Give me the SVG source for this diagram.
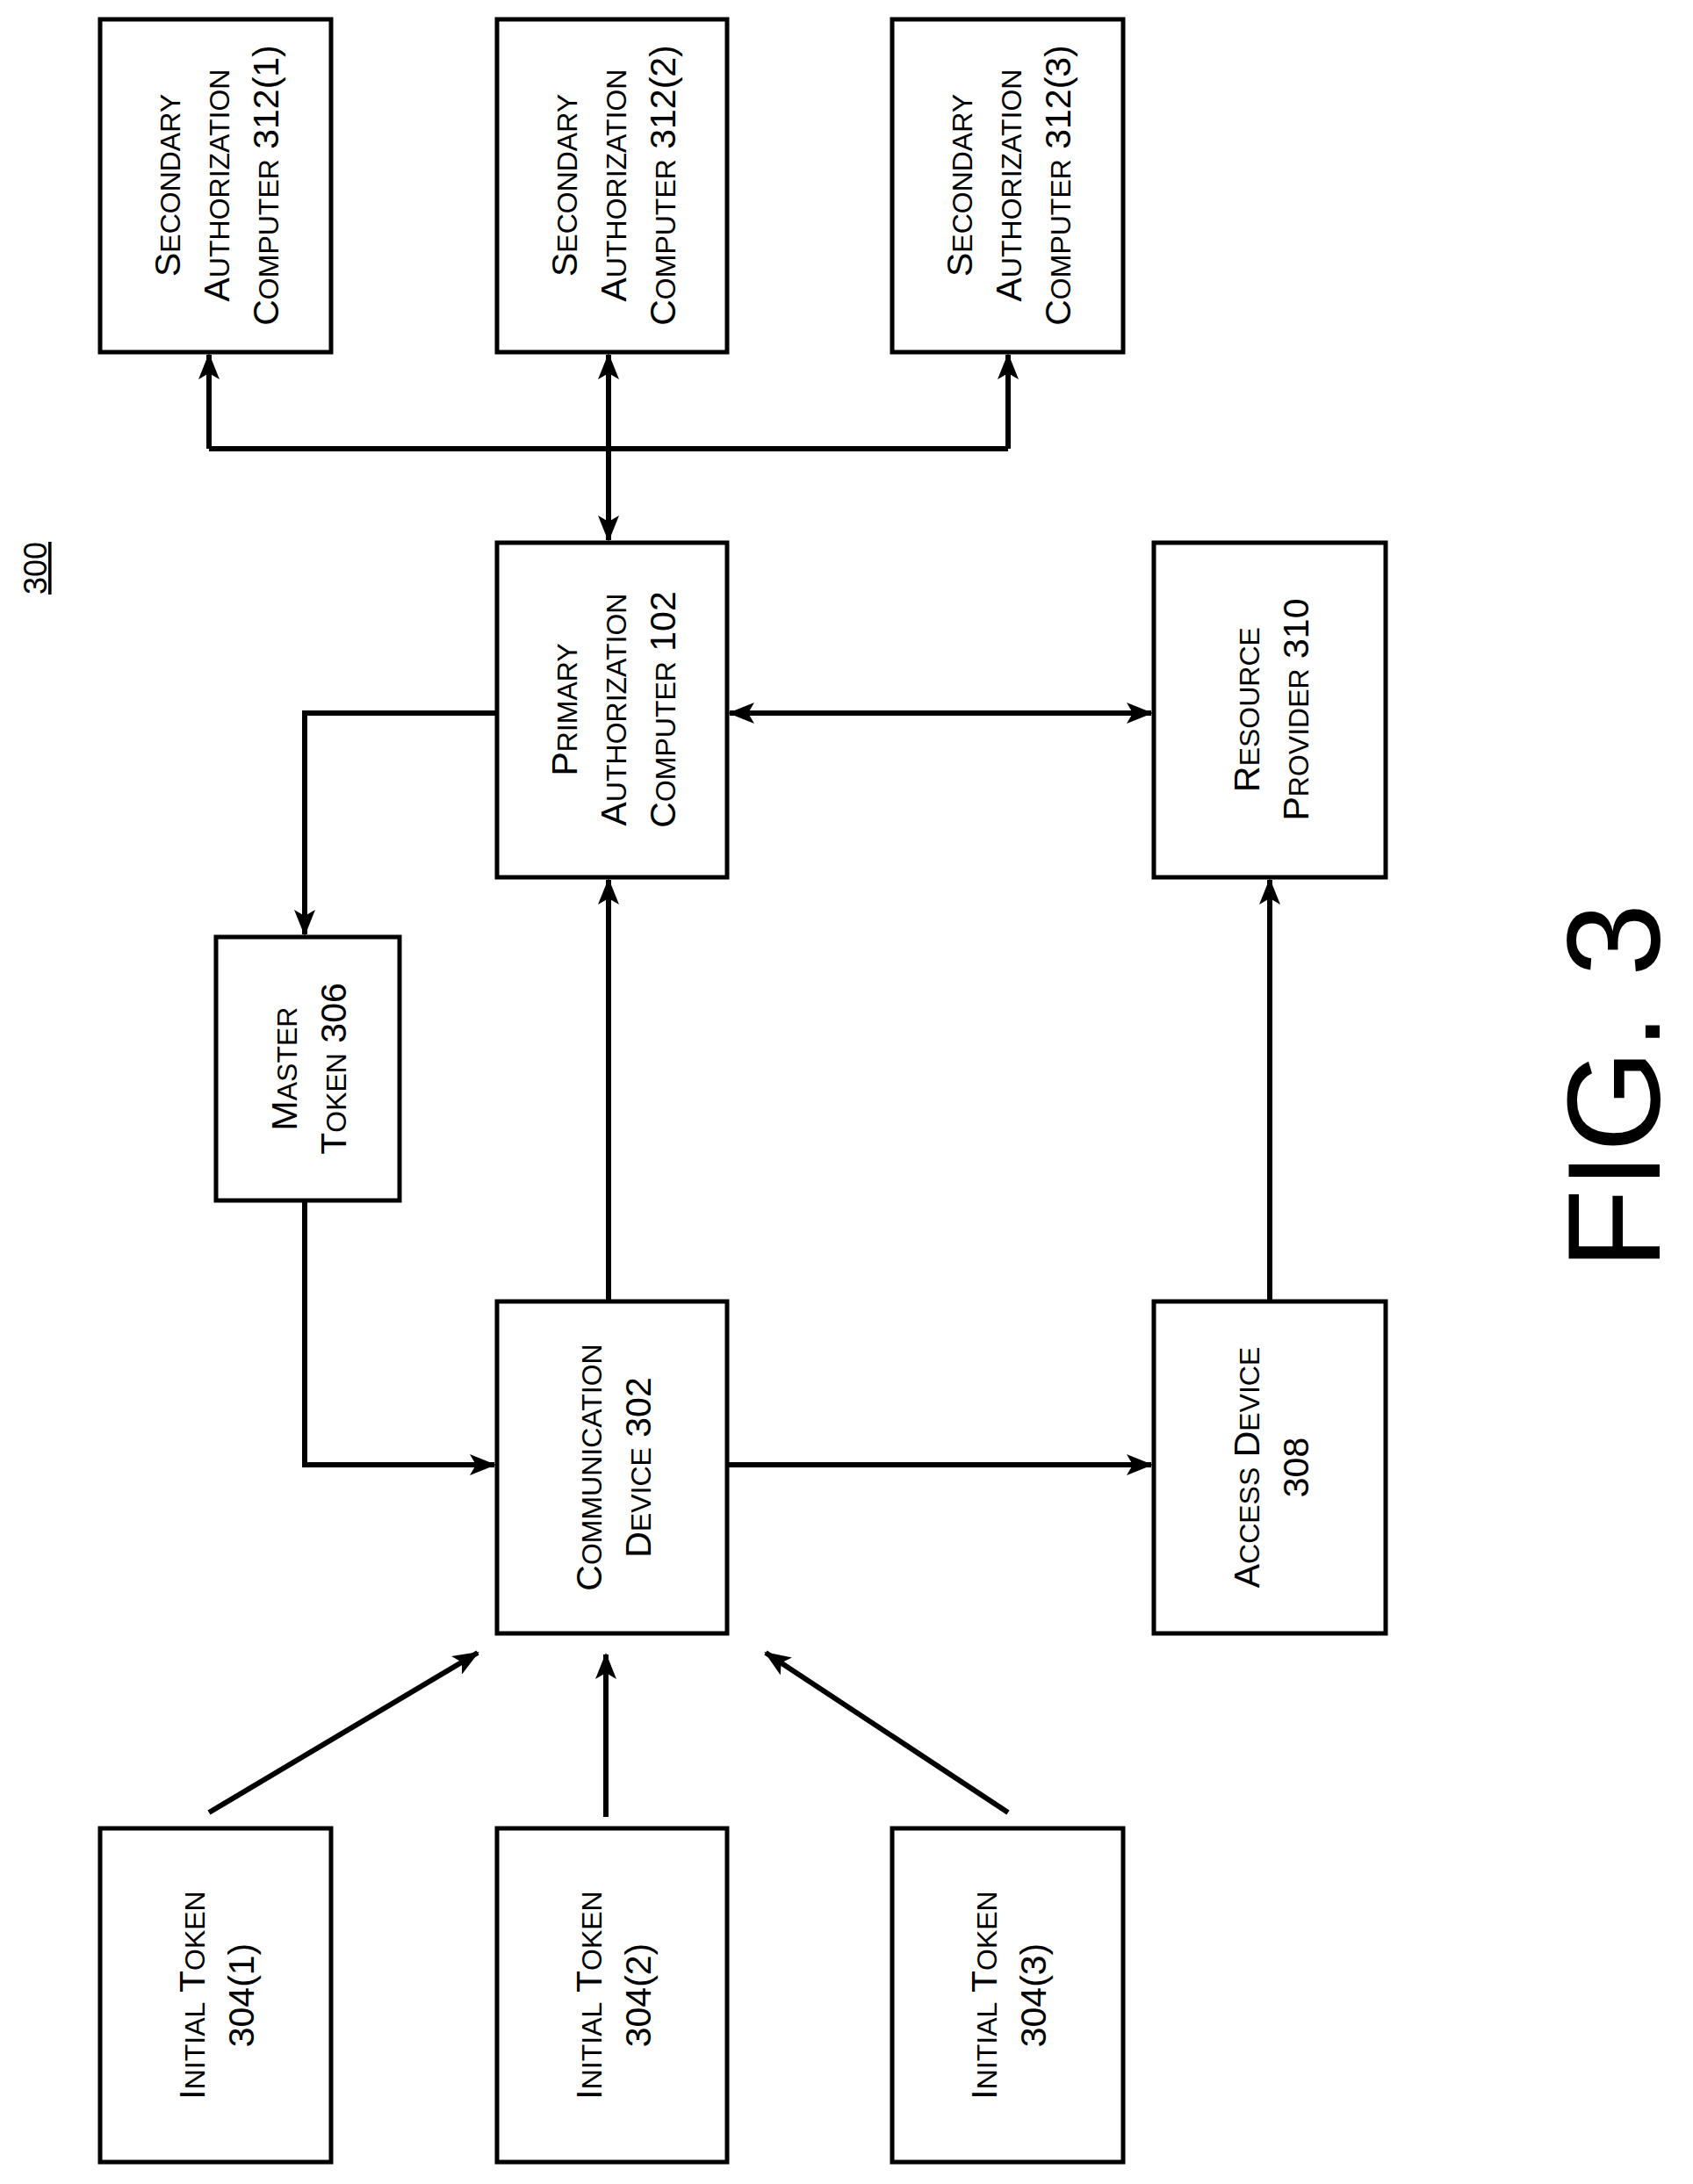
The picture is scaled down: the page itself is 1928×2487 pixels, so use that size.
<svg xmlns="http://www.w3.org/2000/svg" width="1928" height="2487" viewBox="0 0 1928 2487">
<style>
.b{fill:#fff;stroke:#000;stroke-width:5}
.c{fill:none;stroke:#000;stroke-width:6}
text{font-family:"Liberation Sans",Arial,sans-serif;font-size:41px;fill:#000;text-anchor:middle}
.s{font-size:32px}
</style>
<defs>
<marker id="a" viewBox="0 0 30 24" refX="28" refY="12" markerWidth="30" markerHeight="24" markerUnits="userSpaceOnUse" orient="auto-start-reverse"><path d="M0,0L30,12L0,24L7,12Z" fill="#000"/></marker>
</defs>
<g id="connectors">
<path class="c" d="M238,511H1148" />
<path class="c" d="M238,511V404" marker-end="url(#a)"/>
<path class="c" d="M1148,511V404" marker-end="url(#a)"/>
<path class="c" d="M693,404V615" marker-start="url(#a)" marker-end="url(#a)"/>
<path class="c" d="M831,812H1311" marker-start="url(#a)" marker-end="url(#a)"/>
<path class="c" d="M566,812H347V1064" marker-end="url(#a)"/>
<path class="c" d="M347,1367V1668H563" marker-end="url(#a)"/>
<path class="c" d="M693,1482V1002" marker-end="url(#a)"/>
<path class="c" d="M828,1668H1311" marker-end="url(#a)"/>
<path class="c" d="M1446,1482V1002" marker-end="url(#a)"/>
<path class="c" d="M238,2064L544,1882" marker-end="url(#a)"/>
<path class="c" d="M690,2069V1884" marker-end="url(#a)"/>
<path class="c" d="M1148,2064L872,1882" marker-end="url(#a)"/>
</g>
<g id="label300"><text transform="translate(40,647) rotate(-90)" style="font-size:36px;text-decoration:underline" y="13">300</text></g>
<g id="sec1"><rect class="b" x="114" y="22" width="263" height="379"/>
<text transform="translate(245,211) rotate(-90)"><tspan x="0" y="-40">S<tspan class="s">ECONDARY</tspan></tspan><tspan x="0" y="16">A<tspan class="s">UTHORIZATION</tspan></tspan><tspan x="0" y="72">C<tspan class="s">OMPUTER</tspan> 312(1)</tspan></text></g>
<g id="sec2"><rect class="b" x="566" y="22" width="262" height="379"/>
<text transform="translate(697,211) rotate(-90)"><tspan x="0" y="-40">S<tspan class="s">ECONDARY</tspan></tspan><tspan x="0" y="16">A<tspan class="s">UTHORIZATION</tspan></tspan><tspan x="0" y="72">C<tspan class="s">OMPUTER</tspan> 312(2)</tspan></text></g>
<g id="sec3"><rect class="b" x="1016" y="22" width="263" height="379"/>
<text transform="translate(1147,211) rotate(-90)"><tspan x="0" y="-40">S<tspan class="s">ECONDARY</tspan></tspan><tspan x="0" y="16">A<tspan class="s">UTHORIZATION</tspan></tspan><tspan x="0" y="72">C<tspan class="s">OMPUTER</tspan> 312(3)</tspan></text></g>
<g id="primary"><rect class="b" x="566" y="618" width="262" height="381"/>
<text transform="translate(697,808) rotate(-90)"><tspan x="0" y="-40">P<tspan class="s">RIMARY</tspan></tspan><tspan x="0" y="16">A<tspan class="s">UTHORIZATION</tspan></tspan><tspan x="0" y="72">C<tspan class="s">OMPUTER</tspan> 102</tspan></text></g>
<g id="resource"><rect class="b" x="1314" y="618" width="264" height="381"/>
<text transform="translate(1446,808) rotate(-90)"><tspan x="0" y="-12">R<tspan class="s">ESOURCE</tspan></tspan><tspan x="0" y="44">P<tspan class="s">ROVIDER</tspan> 310</tspan></text></g>
<g id="master"><rect class="b" x="246" y="1067" width="209" height="300"/>
<text transform="translate(350,1217) rotate(-90)"><tspan x="0" y="-12">M<tspan class="s">ASTER</tspan></tspan><tspan x="0" y="44">T<tspan class="s">OKEN</tspan> 306</tspan></text></g>
<g id="comm"><rect class="b" x="566" y="1482" width="262" height="378"/>
<text transform="translate(697,1671) rotate(-90)"><tspan x="0" y="-12">C<tspan class="s">OMMUNICATION</tspan></tspan><tspan x="0" y="44">D<tspan class="s">EVICE</tspan> 302</tspan></text></g>
<g id="access"><rect class="b" x="1314" y="1482" width="264" height="378"/>
<text transform="translate(1446,1671) rotate(-90)"><tspan x="0" y="-12">A<tspan class="s">CCESS</tspan> D<tspan class="s">EVICE</tspan></tspan><tspan x="0" y="44">308</tspan></text></g>
<g id="init1"><rect class="b" x="114" y="2082" width="263" height="380"/>
<text transform="translate(245,2272) rotate(-90)"><tspan x="0" y="-12">I<tspan class="s">NITIAL</tspan> T<tspan class="s">OKEN</tspan></tspan><tspan x="0" y="44">304(1)</tspan></text></g>
<g id="init2"><rect class="b" x="566" y="2082" width="262" height="380"/>
<text transform="translate(697,2272) rotate(-90)"><tspan x="0" y="-12">I<tspan class="s">NITIAL</tspan> T<tspan class="s">OKEN</tspan></tspan><tspan x="0" y="44">304(2)</tspan></text></g>
<g id="init3"><rect class="b" x="1016" y="2082" width="263" height="380"/>
<text transform="translate(1147,2272) rotate(-90)"><tspan x="0" y="-12">I<tspan class="s">NITIAL</tspan> T<tspan class="s">OKEN</tspan></tspan><tspan x="0" y="44">304(3)</tspan></text></g>
<g id="fig"><text transform="translate(1834,1237) rotate(-90)" y="56" style="font-size:150px">FIG. 3</text></g>
</svg>
